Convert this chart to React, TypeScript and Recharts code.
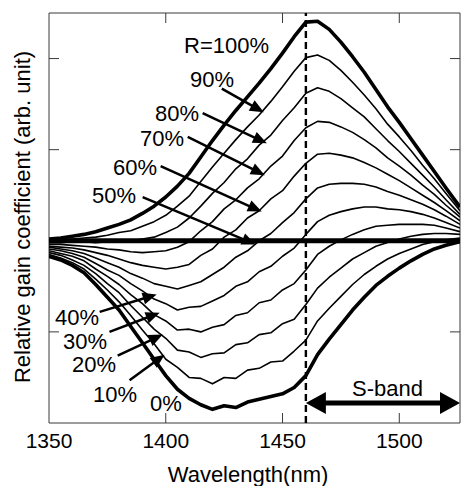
import { LineChart, Line, XAxis, YAxis, ReferenceLine, ReferenceArea } from "recharts";

// wavelength grid (nm)
const wavelengths = [
  1350, 1355, 1360, 1365, 1370, 1375, 1380, 1385, 1390, 1395, 1400, 1405,
  1410, 1415, 1420, 1425, 1430, 1435, 1440, 1445, 1450, 1455, 1460, 1465,
  1470, 1475, 1480, 1485, 1490, 1495, 1500, 1505, 1510, 1515, 1520, 1526,
];

// relative gain per reflectivity R (arb. unit)
const r0 = [-0.17, -0.21, -0.27, -0.35, -0.48, -0.62, -0.76, -0.94, -1.12, -1.3, -1.48, -1.63, -1.73, -1.8, -1.85, -1.81, -1.83, -1.77, -1.74, -1.71, -1.68, -1.61, -1.48, -1.25, -1.08, -0.92, -0.76, -0.62, -0.49, -0.39, -0.3, -0.22, -0.15, -0.09, -0.05, -0.01];
const r10 = [-0.15, -0.19, -0.24, -0.31, -0.42, -0.54, -0.67, -0.82, -0.98, -1.13, -1.3, -1.39, -1.5, -1.51, -1.57, -1.5, -1.51, -1.42, -1.4, -1.33, -1.32, -1.21, -1.09, -0.88, -0.74, -0.61, -0.48, -0.37, -0.28, -0.2, -0.14, -0.09, -0.04, -0.01, 0.01, 0.03];
const r20 = [-0.13, -0.16, -0.21, -0.27, -0.36, -0.47, -0.57, -0.71, -0.84, -0.97, -1.07, -1.2, -1.22, -1.28, -1.24, -1.23, -1.14, -1.12, -1.03, -1.01, -0.91, -0.86, -0.7, -0.52, -0.4, -0.3, -0.2, -0.13, -0.06, -0.02, 0.02, 0.05, 0.07, 0.08, 0.08, 0.07];
const r30 = [-0.11, -0.14, -0.17, -0.22, -0.31, -0.39, -0.48, -0.59, -0.69, -0.81, -0.88, -0.98, -0.97, -1.0, -0.95, -0.92, -0.82, -0.79, -0.68, -0.65, -0.54, -0.47, -0.32, -0.15, -0.06, 0.01, 0.07, 0.12, 0.16, 0.17, 0.18, 0.18, 0.18, 0.17, 0.14, 0.1];
const r40 = [-0.09, -0.11, -0.14, -0.18, -0.25, -0.32, -0.38, -0.47, -0.55, -0.64, -0.69, -0.76, -0.73, -0.72, -0.66, -0.6, -0.5, -0.45, -0.34, -0.28, -0.17, -0.08, 0.07, 0.21, 0.28, 0.32, 0.35, 0.37, 0.37, 0.35, 0.34, 0.32, 0.29, 0.25, 0.2, 0.14];
const r50 = [-0.07, -0.09, -0.11, -0.14, -0.19, -0.24, -0.29, -0.36, -0.41, -0.47, -0.5, -0.53, -0.49, -0.45, -0.37, -0.29, -0.18, -0.11, 0.0, 0.08, 0.2, 0.31, 0.46, 0.58, 0.62, 0.63, 0.63, 0.62, 0.59, 0.54, 0.5, 0.45, 0.4, 0.34, 0.27, 0.18];
const r60 = [-0.06, -0.07, -0.08, -0.1, -0.13, -0.16, -0.2, -0.24, -0.27, -0.29, -0.31, -0.29, -0.26, -0.16, -0.09, 0.04, 0.12, 0.25, 0.33, 0.46, 0.55, 0.71, 0.85, 0.95, 0.96, 0.94, 0.91, 0.86, 0.8, 0.73, 0.66, 0.58, 0.5, 0.42, 0.33, 0.22];
const r70 = [-0.04, -0.04, -0.05, -0.06, -0.07, -0.09, -0.1, -0.12, -0.13, -0.12, -0.11, -0.07, -0.01, 0.11, 0.21, 0.35, 0.45, 0.58, 0.68, 0.82, 0.93, 1.1, 1.24, 1.31, 1.3, 1.25, 1.19, 1.11, 1.02, 0.91, 0.82, 0.72, 0.61, 0.51, 0.39, 0.26];
const r80 = [-0.02, -0.02, -0.01, -0.01, -0.02, -0.01, -0.01, 0.0, 0.02, 0.04, 0.09, 0.15, 0.25, 0.38, 0.52, 0.64, 0.79, 0.9, 1.05, 1.16, 1.32, 1.46, 1.62, 1.68, 1.64, 1.56, 1.46, 1.36, 1.23, 1.1, 0.98, 0.85, 0.72, 0.59, 0.45, 0.29];
const r90 = [0.0, 0.01, 0.02, 0.03, 0.04, 0.06, 0.09, 0.11, 0.16, 0.21, 0.28, 0.38, 0.49, 0.65, 0.81, 0.96, 1.11, 1.25, 1.38, 1.53, 1.69, 1.86, 2.01, 2.04, 1.98, 1.87, 1.74, 1.6, 1.45, 1.28, 1.14, 0.99, 0.83, 0.68, 0.52, 0.33];
const r100 = [0.02, 0.03, 0.05, 0.07, 0.1, 0.14, 0.18, 0.23, 0.3, 0.38, 0.48, 0.6, 0.74, 0.92, 1.1, 1.27, 1.43, 1.58, 1.73, 1.89, 2.06, 2.24, 2.4, 2.41, 2.32, 2.18, 2.02, 1.85, 1.66, 1.47, 1.3, 1.12, 0.94, 0.76, 0.58, 0.37];

const xDomain = [1350, 1526];
const yDomain = [-2, 2.5];
const xTicks = [1350, 1400, 1450, 1500];
const yTicks = [-2, -1, 0, 1, 2];
const sBandStart = 1460;

// pointer arrows from the R labels to their curves (data coords)
const pointerTails = [
  [1424.0, 1.67], [1415.8, 1.4], [1409.4, 1.14], [1397.8, 0.82], [1390.1, 0.48],
  [1371.7, -0.78], [1375.9, -1.0], [1379.4, -1.26], [1384.5, -1.53],
];
const pointerTips = [
  [1442.0, 1.41], [1443.3, 1.07], [1442.4, 0.72], [1441.1, 0.32], [1438.5, -0.04],
  [1396.1, -0.59], [1397.4, -0.79], [1398.7, -1.03], [1399.5, -1.25],
];

const series = [
  { key: "r0", values: r0, thick: true },
  { key: "r10", values: r10 },
  { key: "r20", values: r20 },
  { key: "r30", values: r30 },
  { key: "r40", values: r40 },
  { key: "r50", values: r50 },
  { key: "r60", values: r60 },
  { key: "r70", values: r70 },
  { key: "r80", values: r80 },
  { key: "r90", values: r90 },
  { key: "r100", values: r100, thick: true },
];

const rows = wavelengths.map((w, i) => {
  const row: Record<string, number> = { w };
  series.forEach((s) => {
    row[s.key] = s.values[i];
  });
  return row;
});

const FONT = "'Liberation Sans', Arial, sans-serif";
const FRAME = "#3a3a3a";

// inward tick length, ~10px expressed in data units
const tickX = ((xDomain[1] - xDomain[0]) / 410) * 10;
const tickY = ((yDomain[1] - yDomain[0]) / 410) * 10;

function Arrow(props: any) {
  const { x1, y1, x2, y2, head, half, lw, both } = props;
  const dx = x2 - x1;
  const dy = y2 - y1;
  const len = Math.hypot(dx, dy) || 1;
  const ux = dx / len;
  const uy = dy / len;
  const px = -uy;
  const py = ux;
  const tri = (tx: number, ty: number, dx2: number, dy2: number) =>
    `${tx},${ty} ${tx - dx2 * head + px * half},${ty - dy2 * head + py * half} ${tx - dx2 * head - px * half},${ty - dy2 * head - py * half}`;
  const sx = both ? x1 + ux * head * 0.8 : x1;
  const sy = both ? y1 + uy * head * 0.8 : y1;
  return (
    <g>
      <line
        x1={sx}
        y1={sy}
        x2={x2 - ux * head * 0.8}
        y2={y2 - uy * head * 0.8}
        stroke="#000"
        strokeWidth={lw}
      />
      <polygon points={tri(x2, y2, ux, uy)} fill="#000" />
      {both && <polygon points={tri(x1, y1, -ux, -uy)} fill="#000" />}
    </g>
  );
}

const labels = [
  { text: "R=100%", x: 184, y: 53 },
  { text: "90%", x: 190, y: 87 },
  { text: "80%", x: 155, y: 121 },
  { text: "70%", x: 140, y: 146 },
  { text: "60%", x: 113, y: 175 },
  { text: "50%", x: 92, y: 203 },
  { text: "40%", x: 55, y: 325 },
  { text: "30%", x: 63, y: 349 },
  { text: "20%", x: 72, y: 372 },
  { text: "10%", x: 93, y: 402 },
  { text: "0%", x: 150, y: 411 },
  { text: "S-band", x: 352, y: 396 },
];

export default function App() {
  const innerX = xTicks.filter((t) => t > xDomain[0] && t < xDomain[1]);
  const innerY = yTicks.filter((t) => t > yDomain[0] && t < yDomain[1] && t !== 0);
  return (
    <div style={{ position: "absolute", left: 0, top: 0, width: 461, height: 486, background: "#fff" }}>
      <LineChart
        width={461}
        height={486}
        data={rows}
        margin={{ top: 13, right: 1, bottom: 33, left: 49 }}
      >
        <XAxis
          dataKey="w"
          type="number"
          domain={xDomain}
          ticks={xTicks}
          interval={0}
          allowDataOverflow
          height={30}
          tickLine={false}
          tickSize={0}
          tickMargin={10}
          axisLine={false}
          tick={{ fontSize: 21, fill: "#000", fontFamily: FONT }}
        />
        <YAxis type="number" domain={yDomain} ticks={yTicks} allowDataOverflow hide />
        <ReferenceArea
          x1={xDomain[0]}
          x2={xDomain[1]}
          y1={yDomain[0]}
          y2={yDomain[1]}
          fill="none"
          fillOpacity={0}
          stroke={FRAME}
          strokeWidth={1}
        />
        {innerX.map((t) => (
          <ReferenceLine
            key={`xb${t}`}
            segment={[{ x: t, y: yDomain[0] }, { x: t, y: yDomain[0] + tickY }]}
            stroke={FRAME}
          />
        ))}
        {innerX.map((t) => (
          <ReferenceLine
            key={`xt${t}`}
            segment={[{ x: t, y: yDomain[1] }, { x: t, y: yDomain[1] - tickY }]}
            stroke={FRAME}
          />
        ))}
        {innerY.map((t) => (
          <ReferenceLine
            key={`yl${t}`}
            segment={[{ x: xDomain[0], y: t }, { x: xDomain[0] + tickX, y: t }]}
            stroke={FRAME}
          />
        ))}
        {innerY.map((t) => (
          <ReferenceLine
            key={`yr${t}`}
            segment={[{ x: xDomain[1], y: t }, { x: xDomain[1] - tickX, y: t }]}
            stroke={FRAME}
          />
        ))}
        {series.map((s) => (
          <Line
            key={s.key}
            dataKey={s.key}
            type="linear"
            stroke="#000"
            strokeWidth={s.thick ? 3.6 : 1.6}
            strokeLinejoin="round"
            dot={false}
            activeDot={false}
            isAnimationActive={false}
          />
        ))}
        <ReferenceLine y={0} stroke="#000" strokeWidth={5} />
        <ReferenceLine x={sBandStart} stroke="#000" strokeWidth={2.4} strokeDasharray="7 4" />
        {pointerTails.map((t, i) => (
          <ReferenceLine
            key={`p${i}`}
            segment={[
              { x: t[0], y: t[1] },
              { x: pointerTips[i][0], y: pointerTips[i][1] },
            ]}
            shape={(p: any) => <Arrow {...p} head={14} half={6} lw={2.5} />}
          />
        ))}
        <ReferenceLine
          segment={[
            { x: sBandStart, y: -1.78 },
            { x: xDomain[1], y: -1.78 },
          ]}
          shape={(p: any) => <Arrow {...p} head={20} half={11} lw={5} both />}
        />
      </LineChart>
      <svg
        width={461}
        height={486}
        style={{ position: "absolute", left: 0, top: 0, pointerEvents: "none" }}
        fontFamily={FONT}
      >
        {labels.map((l) => (
          <text key={l.text} x={l.x} y={l.y} fontSize={22} fill="#000">
            {l.text}
          </text>
        ))}
        <text x={248} y={482} fontSize={22} textAnchor="middle" fill="#000">
          Wavelength(nm)
        </text>
        <text
          x={30}
          y={217}
          fontSize={22}
          textAnchor="middle"
          fill="#000"
          transform="rotate(-90 30 217)"
        >
          Relative gain coefficient (arb. unit)
        </text>
      </svg>
    </div>
  );
}
